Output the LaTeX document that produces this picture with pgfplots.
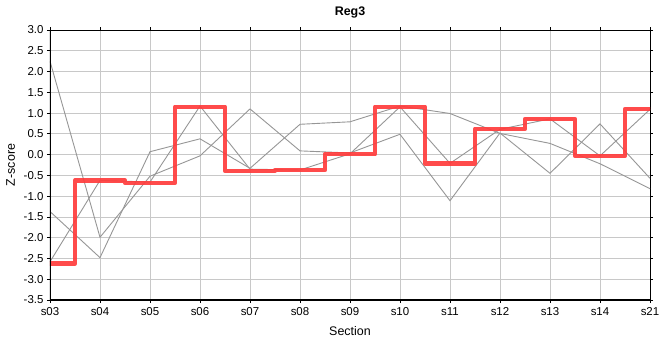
\documentclass[border=0pt]{standalone}
\usepackage{fontspec}
\setmainfont{Liberation Sans}
\usepackage{pgfplots}
\pgfplotsset{compat=1.18}
\definecolor{gridgray}{RGB}{200,200,200}
\definecolor{linegray}{RGB}{150,150,150}
\definecolor{stepred}{RGB}{255,60,60}
\begin{document}
\begin{tikzpicture}
\path[use as bounding box] (-50bp,-60bp) rectangle (610bp,300bp);
\begin{axis}[
  at={(0,0)}, anchor=south west,
  width=600bp, height=270bp, scale only axis,
  xmin=0, xmax=12, ymin=-3.5, ymax=3.0,
  xtick={0,...,12},
  xticklabels={s03,s04,s05,s06,s07,s08,s09,s10,s11,s12,s13,s14,s21},
  ytick={-3.5,-3.0,...,3.0},
  /pgf/number format/.cd, fixed, fixed zerofill, precision=1, assume math mode=true,
  /pgfplots/.cd,
  grid=major,
  major grid style={gridgray, line width=0.8bp},
  tick align=outside, major tick length=3bp,
  tick style={black, line width=0.8bp},
  axis line style={black, line width=0.8bp},
  ticklabel style={font=\fontsize{11.5}{13}\selectfont},
  xticklabel style={yshift=-1bp},
  title={\textbf{Reg3}},
  title style={font=\fontsize{12.5}{14}\selectfont, yshift=2bp},
  xlabel={Section}, ylabel={Z-score},
  label style={font=\fontsize{12.5}{14}\selectfont},
  xlabel style={yshift=-4bp},
  ylabel style={yshift=2bp},
]
% gray series
\addplot[linegray, line width=0.9bp] coordinates {
 (0,2.25) (1,-1.99) (2,-0.52) (3,-0.03) (4,1.10) (5,0.09) (6,0.04)
 (7,0.49) (8,-1.11) (9,0.52) (10,-0.45) (11,0.74) (12,-0.57)};
\addplot[linegray, line width=0.9bp] coordinates {
 (0,-1.37) (1,-2.48) (2,0.07) (3,0.38) (4,-0.33) (5,0.73) (6,0.79)
 (7,1.17) (8,0.99) (9,0.51) (10,0.27) (11,-0.22) (12,-0.82)};
\addplot[linegray, line width=0.9bp] coordinates {
 (0,-2.58) (1,-0.62) (2,-0.66) (3,1.17) (4,-0.35) (5,-0.37) (6,0.02)
 (7,1.15) (8,-0.21) (9,0.61) (10,0.86) (11,-0.03) (12,1.09)};
% highlighted step series
\addplot[stepred, opacity=0.92, line width=4.5bp, line join=round, line cap=round, const plot mark mid] coordinates {
 (0,-2.62) (1,-0.62) (2,-0.68) (3,1.15) (4,-0.39) (5,-0.37) (6,0.01)
 (7,1.15) (8,-0.21) (9,0.62) (10,0.86) (11,-0.03) (12,1.10)};
\draw[black, line width=2.4bp] (rel axis cs:0,0) -- (rel axis cs:0,1);
\draw[black, line width=2.4bp] (rel axis cs:0,0) -- (rel axis cs:1,0);
\end{axis}
\end{tikzpicture}
\end{document}
